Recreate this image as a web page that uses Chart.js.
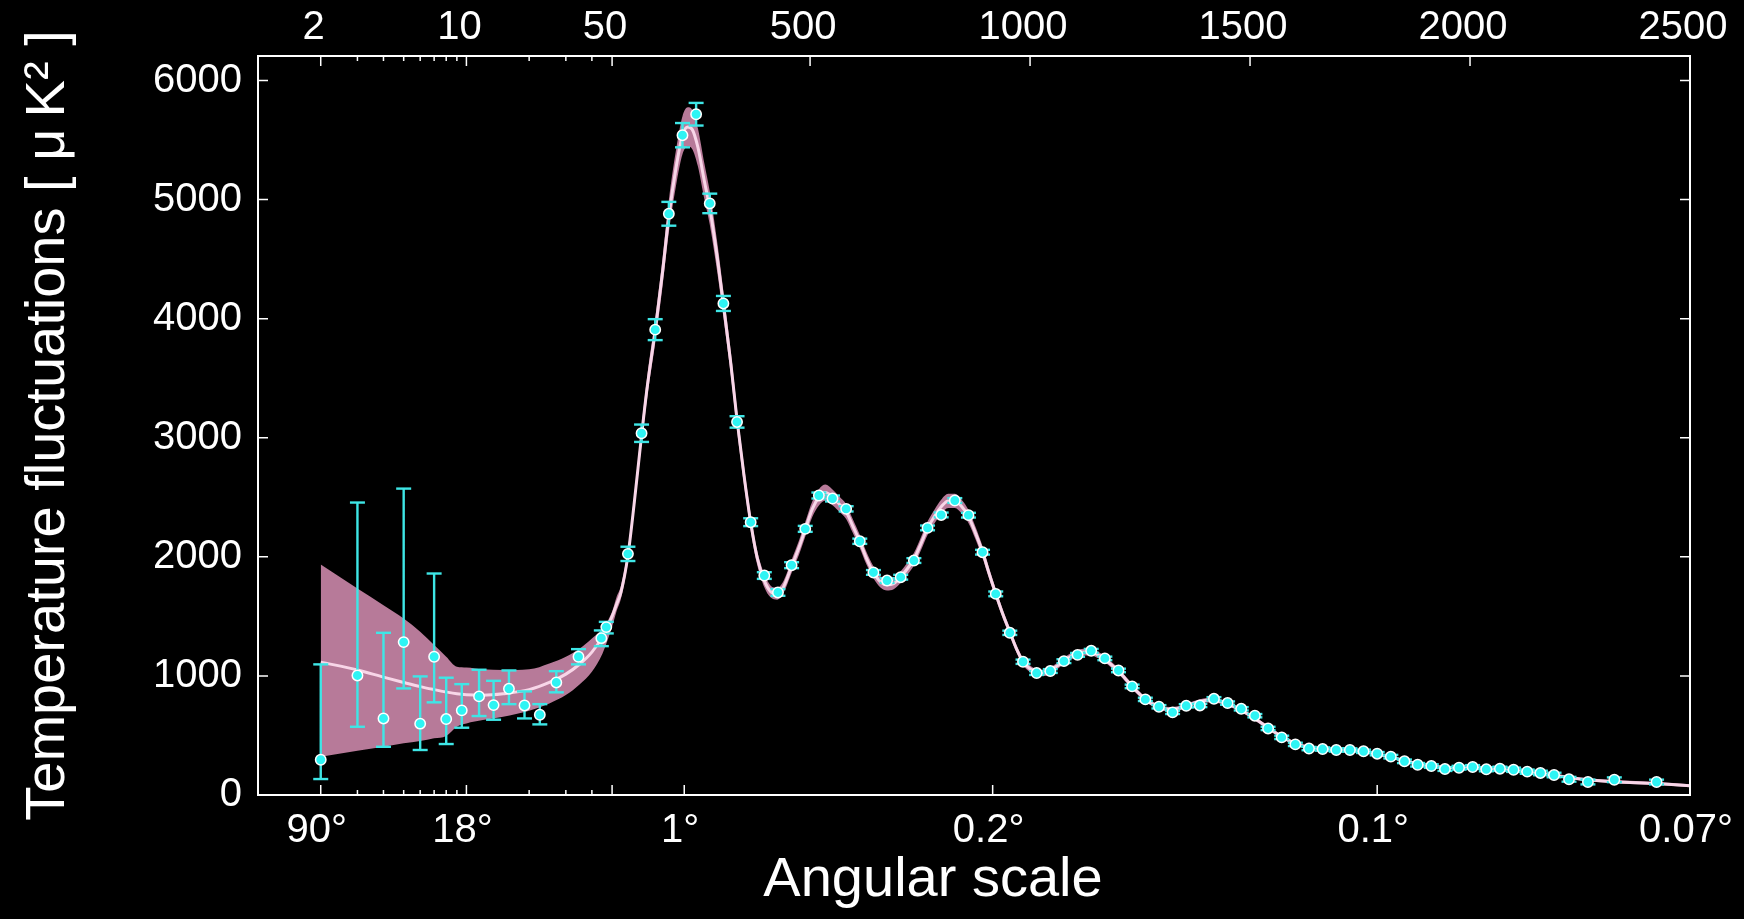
<!DOCTYPE html>
<html>
<head>
<meta charset="utf-8">
<script src="https://cdn.jsdelivr.net/npm/chart.js@4.4.1/dist/chart.umd.min.js"></script>
<style>
  html, body { margin: 0; padding: 0; background: #000; }
  #chart { display: block; }
</style>
</head>
<body>
<canvas id="chart" width="1744" height="919"></canvas>
<script>
// axis ticks
var topTickEll = [2, 10, 50, 500, 1000, 1500, 2000, 2500];
var topTickLabels = ['2', '10', '50', '500', '1000', '1500', '2000', '2500'];
var angleTickEll = [2, 10, 50, 214, 915, 1789, 2500];
var angleTickLabels = ['90°', '18°', '', '1°', '0.2°', '0.1°', '0.07°'];
var minorTickEll = [3, 4, 5, 6, 7, 8, 9, 20, 30, 40];
var yTicks = [0, 1000, 2000, 3000, 4000, 5000, 6000];

// measured power spectrum points (multipole, D_l) and error bar sizes
var pointEll = [2, 3, 4, 5, 6, 7, 8, 9.5, 11.5, 13.5, 16, 19, 22.5, 27, 34.5, 44.4, 46.9,
  86, 117, 148, 179, 210, 241, 272, 303, 334, 365,
  396, 427, 458, 489, 520, 551, 582, 613, 644, 675,
  706, 736, 767, 798, 829, 860, 892, 922, 954, 984,
  1015, 1046, 1077, 1108, 1139, 1170, 1201, 1232, 1262, 1293,
  1324, 1355, 1386, 1418, 1449, 1480, 1511, 1541, 1572, 1603,
  1634, 1665, 1696, 1727, 1758, 1789, 1820, 1851, 1881, 1912,
  1943, 1975, 2006, 2037, 2068, 2099, 2130, 2160, 2191, 2225,
  2268, 2328, 2424];
var pointD = [296, 1004, 643, 1284, 599, 1161, 638, 711, 828, 755, 892, 752, 674, 945, 1161, 1317, 1410,
  2025, 3038, 3908, 4881, 5541, 5717, 4968, 4128, 3133, 2291,
  1843, 1701, 1930, 2235, 2515, 2490, 2403, 2131, 1869, 1801,
  1829, 1969, 2243, 2352, 2473, 2350, 2039, 1689, 1362, 1119,
  1024, 1041, 1124, 1177, 1211, 1147, 1046, 912, 803, 741,
  694, 749, 752, 808, 772, 724, 666, 559, 484, 425,
  390, 386, 378, 378, 367, 347, 322, 283, 254, 243,
  218, 229, 235, 216, 221, 212, 196, 185, 168, 132,
  109, 128, 109];
var errUp = [801, 1452, 719, 1289, 397, 699, 347, 220, 224, 204, 154, 118, 89, 95, 64, 65, 44,
  60, 73, 88, 100, 102, 95, 82, 63, 48, 33,
  28, 28, 25, 25, 25, 25, 22, 22, 20, 20,
  20, 20, 20, 20, 20, 20, 20, 20, 18, 18,
  16, 16, 16, 16, 16, 15, 15, 15, 14, 14,
  14, 14, 14, 14, 14, 14, 14, 14, 14, 14,
  14, 14, 14, 14, 14, 14, 15, 15, 15, 15,
  16, 16, 16, 17, 17, 18, 18, 19, 19, 20,
  20, 20, 20];
var errDown = [162, 431, 238, 389, 221, 383, 210, 146, 165, 123, 129, 109, 81, 83, 64, 67, 53,
  60, 73, 88, 100, 102, 95, 82, 63, 48, 33,
  28, 28, 25, 25, 25, 25, 22, 22, 20, 20,
  20, 20, 20, 20, 20, 20, 20, 20, 18, 18,
  16, 16, 16, 16, 16, 15, 15, 15, 14, 14,
  14, 14, 14, 14, 14, 14, 14, 14, 14, 14,
  14, 14, 14, 14, 14, 14, 15, 15, 15, 15,
  16, 16, 16, 17, 17, 18, 18, 19, 19, 20,
  20, 20, 20];

// best fit model curve
var theoryEll = [2, 3, 4, 5, 6, 7, 8, 9, 10, 12, 15, 20, 25, 30, 35, 40, 45, 50,
  60, 70, 86, 100, 117, 130, 148, 165, 179, 195,
  210, 222, 232, 245, 260, 272, 290, 303, 320, 334,
  350, 365, 380, 396, 410, 425, 440, 458, 475, 489,
  505, 520, 535, 551, 567, 582, 597, 613, 628, 644,
  660, 675, 690, 706, 721, 736, 752, 767, 783, 798,
  814, 829, 845, 860, 876, 892, 907, 922, 938, 954,
  969, 984, 1000, 1015, 1030, 1046, 1062, 1077, 1093, 1108,
  1124, 1139, 1155, 1170, 1186, 1201, 1217, 1232, 1247, 1263,
  1278, 1293, 1309, 1324, 1340, 1355, 1371, 1386, 1402, 1417,
  1433, 1448, 1464, 1480, 1510, 1541, 1572, 1603, 1634, 1665,
  1696, 1727, 1758, 1789, 1820, 1851, 1881, 1912, 1943, 1975,
  2006, 2037, 2068, 2099, 2130, 2160, 2191, 2225, 2268, 2328,
  2424, 2500];
var theoryD = [1116, 1050, 990, 945, 910, 885, 865, 850, 842, 838, 850, 885, 945, 1015, 1100, 1200, 1330, 1500,
  1600, 1700, 2010, 2440, 3020, 3430, 3900, 4400, 4860, 5260,
  5540, 5610, 5590, 5440, 5150, 4930, 4490, 4120, 3620, 3150,
  2680, 2290, 1990, 1800, 1710, 1690, 1750, 1920, 2080, 2230,
  2400, 2500, 2540, 2500, 2440, 2380, 2260, 2130, 1990, 1870,
  1790, 1765, 1775, 1830, 1900, 1980, 2110, 2240, 2340, 2420,
  2470, 2470, 2420, 2340, 2200, 2040, 1860, 1690, 1520, 1370,
  1230, 1120, 1060, 1030, 1025, 1045, 1085, 1125, 1165, 1190,
  1200, 1200, 1175, 1140, 1090, 1040, 975, 912, 855, 800,
  765, 738, 722, 720, 730, 748, 768, 785, 795, 795,
  785, 768, 742, 712, 645, 565, 490, 432, 398, 385,
  380, 375, 365, 345, 318, 288, 262, 245, 232, 228,
  228, 222, 215, 205, 193, 180, 165, 147, 128, 112,
  96, 78];

// shaded band: explicit edges at low l, half width above l = 50
var lowBandHi = [1936, 1734, 1594, 1483, 1371, 1259, 1161, 1077, 1071, 1055, 1049, 1055, 1105, 1161, 1231, 1315, 1399, 1538];
var lowBandLo = [321, 372, 405, 434, 453, 476, 495, 573, 601, 629, 657, 708, 769, 839, 931, 1035, 1189, 1412];
var bandSpread = [60, 55, 55, 65, 75, 90, 105, 120, 135, 150,
  160, 165, 165, 160, 150, 140, 125, 110, 100, 90,
  80, 70, 60, 55, 50, 50, 50, 55, 60, 62,
  65, 68, 68, 66, 64, 62, 58, 55, 52, 50,
  48, 48, 48, 48, 50, 52, 54, 56, 58, 60,
  60, 60, 58, 55, 52, 48, 45, 42, 38, 35,
  32, 30, 28, 27, 26, 26, 26, 27, 28, 28,
  28, 28, 27, 26, 25, 24, 23, 22, 21, 20,
  20, 19, 19, 19, 19, 19, 19, 19, 19, 19,
  19, 18, 18, 18, 17, 16, 15, 15, 15, 15,
  14, 14, 14, 14, 14, 14, 14, 13, 13, 13,
  13, 13, 13, 13, 13, 13, 13, 13, 13, 13,
  13, 13];

var FONT = "'Liberation Sans', Arial, sans-serif";

// log below l=50, linear above
function ellToU(l) { return l >= 50 ? l : 50 + 473.7 * Math.log10(l / 50); }
function uToEll(u) { return u >= 50 ? u : 50 * Math.pow(10, (u - 50) / 473.7); }

class HybridScale extends Chart.LinearScale {
  buildTicks() { return []; }
  getPixelForValue(value) {
    var a = ellToU(this.min), b = ellToU(this.max);
    return this.getPixelForDecimal((ellToU(value) - a) / (b - a));
  }
  getValueForPixel(pixel) {
    var a = ellToU(this.min), b = ellToU(this.max);
    return uToEll(a + this.getDecimalForPixel(pixel) * (b - a));
  }
}
HybridScale.id = 'hybrid';
HybridScale.defaults = {};
Chart.register(HybridScale);

var points = [], bars = [], theory = [], bandTop = [], bandBottom = [];
pointEll.forEach(function(l, i) {
  points.push({x: l, y: pointD[i]});
  bars.push({x: l, y: pointD[i] - errDown[i]});
  bars.push({x: l, y: pointD[i] + errUp[i]});
  bars.push({x: l, y: null});
});
theoryEll.forEach(function(l, i) {
  theory.push({x: l, y: theoryD[i]});
  if (i < lowBandHi.length) {
    bandTop.push({x: l, y: lowBandHi[i]});
    bandBottom.push({x: l, y: lowBandLo[i]});
  } else {
    var s = bandSpread[i - lowBandHi.length];
    bandTop.push({x: l, y: theoryD[i] + s});
    bandBottom.push({x: l, y: theoryD[i] - s});
  }
});

var frameTicks = {
  id: 'frameTicks',
  afterDraw: function(chart) {
    var ctx = chart.ctx, a = chart.chartArea;
    var x = chart.scales.x, x2 = chart.scales.x2, y = chart.scales.y;
    ctx.save();
    ctx.strokeStyle = '#fff';
    ctx.lineWidth = 1.5;
    ctx.beginPath();
    x.ticks.forEach(function(t) {
      var px = x.getPixelForValue(t.value);
      ctx.moveTo(px, a.bottom); ctx.lineTo(px, a.bottom - 10);
    });
    x2.ticks.forEach(function(t) {
      var px = x2.getPixelForValue(t.value);
      ctx.moveTo(px, a.top); ctx.lineTo(px, a.top + 10);
    });
    minorTickEll.forEach(function(v) {
      var px = x.getPixelForValue(v);
      ctx.moveTo(px, a.bottom); ctx.lineTo(px, a.bottom - 5);
      ctx.moveTo(px, a.top); ctx.lineTo(px, a.top + 5);
    });
    y.ticks.forEach(function(t) {
      var py = y.getPixelForValue(t.value);
      ctx.moveTo(a.left, py); ctx.lineTo(a.left + 10, py);
      ctx.moveTo(a.right, py); ctx.lineTo(a.right - 10, py);
    });
    ctx.stroke();
    ctx.lineWidth = 2;
    ctx.strokeRect(a.left, a.top, a.right - a.left, a.bottom - a.top);
    ctx.fillStyle = '#fff';
    ctx.font = '56px ' + FONT;
    ctx.textAlign = 'center';
    ctx.textBaseline = 'middle';
    ctx.fillText('Angular scale', (a.left + a.right) / 2 - 41, 881);
    ctx.restore();
  }
};

function fixWidth(w) {
  return function(s) { s.width = w; s.paddingTop = 0; s.paddingBottom = 0; };
}
function fixHeight(h) {
  return function(s) { s.height = h; s.paddingLeft = 0; s.paddingRight = 0; };
}

Chart.defaults.font.family = FONT;
Chart.defaults.color = '#fff';

var ctx = document.getElementById('chart').getContext('2d');
var chart = new Chart(ctx, {
  type: 'line',
  data: {
    datasets: [{
      label: 'data',
      data: points,
      xAxisID: 'x',
      showLine: false,
      pointRadius: 5.2,
      pointBackgroundColor: '#2ef4f4',
      pointBorderColor: '#ffffff',
      pointBorderWidth: 1.5
    }, {
      label: 'errors',
      data: bars,
      xAxisID: 'x',
      spanGaps: false,
      borderColor: '#3ee6e6',
      borderWidth: 2.4,
      pointStyle: 'line',
      pointRadius: 7.5,
      pointBorderColor: '#3ee6e6',
      pointBorderWidth: 2.4
    }, {
      label: 'model',
      data: theory,
      xAxisID: 'x',
      borderColor: '#f8d6e8',
      borderWidth: 3,
      pointRadius: 0,
      cubicInterpolationMode: 'monotone'
    }, {
      label: 'band top',
      data: bandTop,
      xAxisID: 'x',
      borderWidth: 0,
      pointRadius: 0,
      backgroundColor: '#b77a99',
      fill: '+1',
      cubicInterpolationMode: 'monotone'
    }, {
      label: 'band bottom',
      data: bandBottom,
      xAxisID: 'x',
      borderWidth: 0,
      pointRadius: 0,
      fill: false,
      cubicInterpolationMode: 'monotone'
    }]
  },
  options: {
    responsive: false,
    animation: false,
    events: [],
    layout: { padding: { left: 0, right: 54, top: 0, bottom: 0 } },
    plugins: { legend: { display: false }, tooltip: { enabled: false } },
    scales: {
      x: {
        type: 'hybrid', position: 'bottom', min: 1, max: 2500,
        grid: { display: false, drawTicks: false },
        border: { display: false },
        afterBuildTicks: function(s) { s.ticks = angleTickEll.map(function(v) { return {value: v}; }); },
        afterFit: fixHeight(124),
        ticks: {
          autoSkip: false, maxRotation: 0, padding: 12, labelOffset: -4,
          font: { size: 40 },
          callback: function(v, i) { return angleTickLabels[i]; }
        }
      },
      x2: {
        type: 'hybrid', position: 'top', min: 1, max: 2500,
        grid: { display: false, drawTicks: false },
        border: { display: false },
        afterBuildTicks: function(s) { s.ticks = topTickEll.map(function(v) { return {value: v}; }); },
        afterFit: fixHeight(56),
        ticks: {
          autoSkip: false, maxRotation: 0, padding: 4, labelOffset: -7,
          font: { size: 40 },
          callback: function(v, i) { return topTickLabels[i]; }
        }
      },
      y: {
        type: 'linear', position: 'left', min: 0, max: 6206,
        grid: { display: false, drawTicks: false },
        border: { display: false },
        afterBuildTicks: function(s) { s.ticks = yTicks.map(function(v) { return {value: v}; }); },
        afterFit: fixWidth(258),
        ticks: {
          padding: 16, font: { size: 40 },
          callback: function(v) { return String(v); }
        },
        title: {
          display: true,
          text: 'Temperature fluctuations [ μ\u2009K² ]',
          font: { size: 56 },
          padding: { top: 15, bottom: 0 }
        }
      }
    }
  },
  plugins: [frameTicks]
});
</script>
</body>
</html>
